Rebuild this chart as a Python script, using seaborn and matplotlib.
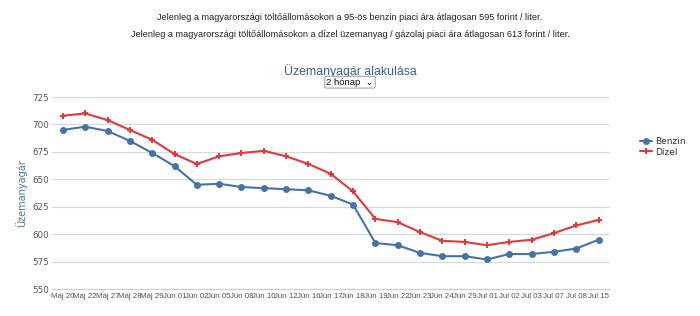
import matplotlib
matplotlib.use("Agg")
import matplotlib.pyplot as plt
import numpy as np
import pandas as pd
import seaborn as sns

dates = ["Máj 20", "Máj 22", "Máj 27", "Máj 28", "Máj 29", "Jún 01", "Jún 02",
         "Jún 05", "Jún 08", "Jún 10", "Jún 12", "Jún 16", "Jún 17", "Jún 18",
         "Jún 19", "Jún 22", "Jún 23", "Jún 24", "Jún 29", "Jul 01", "Jul 02",
         "Jul 03", "Jul 07", "Jul 08", "Jul 15"]
benzin = [695, 698, 694, 685, 674, 662, 645, 646, 643, 642, 641, 640, 635, 627,
          592, 590, 583, 580, 580, 577, 582, 582, 584, 587, 595]
dizel = [708, 710, 704, 695, 686, 673, 664, 671, 674, 676, 671, 664, 655, 639,
         614, 611, 602, 594, 593, 590, 593, 595, 601, 608, 613]
y_ticks = [550, 575, 600, 625, 650, 675, 700, 725]

df = pd.concat([
    pd.DataFrame({"datum": dates, "ar": benzin, "tipus": "Benzin"}),
    pd.DataFrame({"datum": dates, "ar": dizel, "tipus": "Dízel"}),
])

sns.set_style("white")
plt.rcParams["font.family"] = ["DejaVu Sans"]
narrow = ["Liberation Sans", "DejaVu Sans"]

fig = plt.figure(figsize=(7, 3.16), dpi=100)
ax = fig.add_axes([0.074, 0.085, 0.797, 0.608])

palette = {"Benzin": "#4572A7", "Dízel": "#E0393E"}
sns.lineplot(data=df, x="datum", y="ar", hue="tipus", palette=palette,
             style="tipus", markers={"Benzin": "o", "Dízel": "P"}, dashes=False,
             markersize=5, markeredgewidth=0, linewidth=1.5, sort=False, ax=ax)

ax.set_ylim(550, 725)
ax.set_yticks(y_ticks)
ax.set_xlim(-0.5, len(dates) - 0.5)
ax.grid(axis="y", color="#d8d8d8", linewidth=0.8)
ax.set_axisbelow(True)
for s in ["top", "right", "left"]:
    ax.spines[s].set_visible(False)
ax.spines["bottom"].set_color("#c0d0e0")
ax.spines["bottom"].set_linewidth(0.8)

ax.set_xticks(np.arange(len(dates)))
ax.set_xticklabels(dates, fontsize=5.7, color="#555555", family=narrow)
ax.set_xticks(np.arange(len(dates)) - 0.5, minor=True)
ax.tick_params(axis="x", which="major", length=0, pad=3)
ax.tick_params(axis="x", which="minor", length=4, color="#c0d0e0")
ax.tick_params(axis="y", length=0, labelsize=6.3, labelcolor="#555555", pad=14)
for lbl in ax.get_yticklabels():
    lbl.set_horizontalalignment("left")

ax.set_xlabel("")
ax.set_ylabel("Üzemanyagár", fontsize=7, color="#4d759e", labelpad=4)

leg = ax.legend(title=None, loc="center left", bbox_to_anchor=(1.04, 0.74),
                frameon=False, fontsize=6.5, handlelength=1.3, handletextpad=0.4,
                labelspacing=0.15, labelcolor="#333333")

fig.text(0.5, 0.945, "Jelenleg a magyarországi töltőállomásokon a 95-ös benzin piaci ára átlagosan 595 forint / liter.",
         ha="center", va="center", fontsize=6.6, color="#222222", family=narrow)
fig.text(0.5, 0.89, "Jelenleg a magyarországi töltőállomásokon a dízel üzemanyag / gázolaj piaci ára átlagosan 613 forint / liter.",
         ha="center", va="center", fontsize=6.6, color="#222222", family=narrow)
fig.text(0.5, 0.775, "Üzemanyagár alakulása", ha="center", va="center",
         fontsize=8.8, color="#3b5f86", family=narrow)
fig.text(0.5, 0.74, "2 hónap  ⌄", ha="center", va="center", fontsize=6.8,
         color="#111111", family=narrow,
         bbox=dict(boxstyle="round,pad=0.15", fc="white", ec="#888888", lw=0.6))

fig.savefig("out.png", dpi=100)
